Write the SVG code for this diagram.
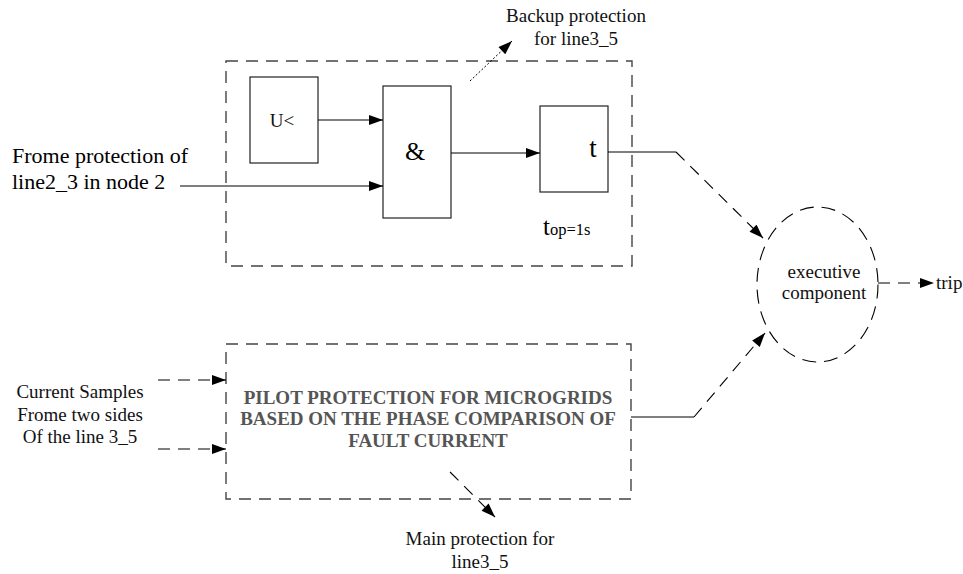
<svg xmlns="http://www.w3.org/2000/svg" width="963" height="574" viewBox="0 0 963 574">
<defs>
<marker id="ah" viewBox="0 0 14 10" refX="14" refY="5" markerWidth="15" markerHeight="10" markerUnits="userSpaceOnUse" orient="auto">
<path d="M0,0 L14,5 L0,10 Z" fill="#000"/>
</marker>
</defs>
<style>
.lbl{font-family:"Liberation Serif","Times New Roman",serif;font-size:19px;fill:#111}
.box{fill:#fff;stroke:#222;stroke-width:1.2}
.dbox{fill:none;stroke:#444;stroke-width:1.4;stroke-dasharray:12 8}
.ln{fill:none;stroke:#000;stroke-width:1.1}
.dl{fill:none;stroke:#000;stroke-width:1.1;stroke-dasharray:12 8}
.dot{fill:none;stroke:#000;stroke-width:1;stroke-dasharray:2 2}
.big{font-family:"Liberation Serif","Times New Roman",serif;fill:#000}
.pilot{font-family:"Liberation Serif","Times New Roman",serif;font-size:19px;font-weight:bold;fill:#555}
</style>
<rect width="963" height="574" fill="#fff"/>

<g id="backup-group">
<rect class="dbox" x="226" y="61" width="406" height="205"/>
<text class="big" x="543" y="235" font-size="25">t<tspan font-size="16.5">op=1s</tspan></text>
</g>

<g id="pilot-group">
<rect class="dbox" x="226" y="344" width="405" height="155"/>
<text class="pilot" x="428" y="404" text-anchor="middle">PILOT PROTECTION FOR MICROGRIDS</text>
<text class="pilot" x="428" y="425" text-anchor="middle">BASED ON THE PHASE COMPARISON OF</text>
<text class="pilot" x="428" y="447" text-anchor="middle">FAULT CURRENT</text>
</g>

<g id="node-u">
<rect class="box" x="250" y="77" width="68" height="86"/>
<text class="lbl" x="282" y="127" text-anchor="middle">U&lt;</text>
</g>

<g id="node-and">
<rect class="box" x="383" y="86" width="68" height="132"/>
<text class="big" x="415" y="160" font-size="26" text-anchor="middle">&amp;</text>
</g>

<g id="node-t">
<rect class="box" x="540" y="106" width="68" height="86"/>
<text class="big" x="593" y="157" font-size="27" text-anchor="middle">t</text>
</g>

<g id="node-exec">
<ellipse cx="817.5" cy="284.5" rx="60.5" ry="77.5" fill="none" stroke="#000" stroke-width="1.1" stroke-dasharray="14 8"/>
<text class="lbl" x="824" y="278" text-anchor="middle">executive</text>
<text class="lbl" x="824" y="299" text-anchor="middle">component</text>
</g>

<g id="labels">
<text class="big" x="12" y="163" font-size="22">Frome protection of</text>
<text class="big" x="12" y="189" font-size="22">line2_3 in node 2</text>
<text class="lbl" x="576" y="22" text-anchor="middle">Backup protection</text>
<text class="lbl" x="576" y="45" text-anchor="middle">for line3_5</text>
<text class="lbl" x="80" y="398" text-anchor="middle">Current Samples</text>
<text class="lbl" x="80" y="421" text-anchor="middle">Frome two sides</text>
<text class="lbl" x="80" y="443" text-anchor="middle">Of the line 3_5</text>
<text class="lbl" x="480" y="545" text-anchor="middle">Main protection for</text>
<text class="lbl" x="480" y="568" text-anchor="middle">line3_5</text>
<text class="lbl" x="936" y="289">trip</text>
</g>

<g id="connectors">
<line class="ln" x1="318" y1="120" x2="383" y2="120" marker-end="url(#ah)"/>
<line class="ln" x1="180" y1="186" x2="383" y2="186" marker-end="url(#ah)"/>
<line class="ln" x1="451" y1="153" x2="540" y2="153" marker-end="url(#ah)"/>
<line class="ln" x1="608" y1="152" x2="676" y2="152"/>
<line class="dl" x1="676" y1="152" x2="763" y2="238" marker-end="url(#ah)"/>
<line class="ln" x1="631" y1="417" x2="694" y2="417"/>
<line class="dl" x1="694" y1="417" x2="765" y2="333" marker-end="url(#ah)"/>
<line class="dl" x1="878" y1="283" x2="934" y2="283" marker-end="url(#ah)"/>
<line class="dl" x1="158" y1="380" x2="226" y2="380" marker-end="url(#ah)"/>
<line class="dl" x1="158" y1="449" x2="226" y2="449" marker-end="url(#ah)"/>
<line class="dl" x1="450" y1="472" x2="495" y2="517" marker-end="url(#ah)"/>
<line class="dot" x1="470" y1="81" x2="512" y2="41" marker-end="url(#ah)"/>
</g>
</svg>
